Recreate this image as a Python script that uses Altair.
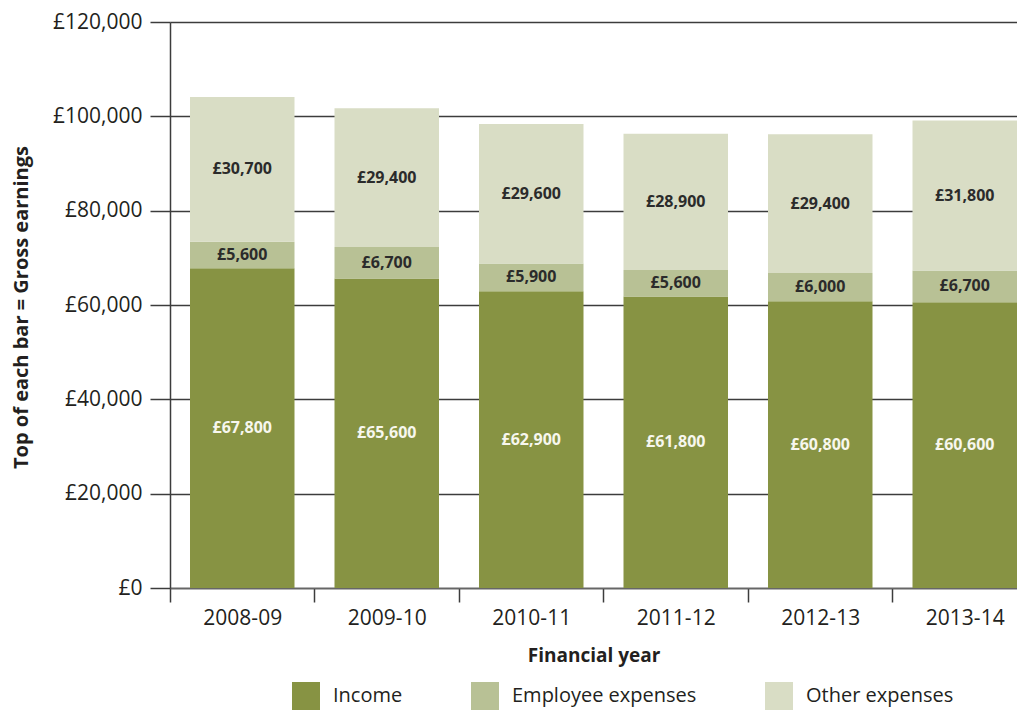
import altair as alt
import pandas as pd

years = ["2008-09", "2009-10", "2010-11", "2011-12", "2012-13", "2013-14"]
income = [67800, 65600, 62900, 61800, 60800, 60600]
employee = [5600, 6700, 5900, 5600, 6000, 6700]
other = [30700, 29400, 29600, 28900, 29400, 31800]
series = ["Income", "Employee expenses", "Other expenses"]
colors = ["#879343", "#b8c195", "#d9ddc5"]
label_colors = ["#f7f7ee", "#2b2b2b", "#2b2b2b"]
y_ticks = [0, 20000, 40000, 60000, 80000, 100000, 120000]

rows = []
for i, yr in enumerate(years):
    for k, vals in enumerate([income, employee, other]):
        rows.append({"year": yr, "series": series[k], "order": k,
                     "value": vals[i], "tcolor": label_colors[k]})
df = pd.DataFrame(rows)

FONT = "Open Sans"
INK = "#231f20"
LINE = "#3c3c3c"

base = alt.Chart(df).transform_stack(
    stack="value", groupby=["year"], as_=["y0", "y1"],
    sort=[alt.SortField("order", order="ascending")]
).transform_calculate(
    mid="(datum.y0 + datum.y1) / 2",
    label="'£' + format(datum.value, ',')"
)

x_enc = alt.X(
    "year:N", sort=years,
    scale=alt.Scale(paddingInner=0.2768, paddingOuter=0.0692, align=1),
    axis=alt.Axis(
        title="Financial year", bandPosition=0, labelAngle=0,
        tickOffset=-20, labelOffset=20,
        labelFont=FONT, labelFontSize=21, labelColor=INK, labelPadding=5,
        tickSize=14, tickColor=LINE, tickWidth=1.5,
        domainColor="#666666", domainWidth=1.5,
        titleFont=FONT, titleFontSize=19, titleFontWeight="bold", titleColor=INK,
        titleY=67, titleBaseline="middle", grid=False,
    ),
)

bars = base.mark_bar(strokeWidth=0).encode(
    x=x_enc,
    y=alt.Y(
        "y0:Q",
        scale=alt.Scale(domain=[0, 120000], nice=False),
        axis=alt.Axis(
            title="Top of each bar = Gross earnings", values=y_ticks,
            labelExpr="'£' + format(datum.value, ',')",
            labelFont=FONT, labelFontSize=21, labelColor=INK, labelPadding=8,
            tickSize=20, tickColor=LINE, tickWidth=1.5,
            domainColor=LINE, domainWidth=1.5,
            grid=True, gridColor=LINE, gridWidth=1.5,
            titleFont=FONT, titleFontSize=20, titleFontWeight="bold", titleColor=INK,
            titleX=-149, titleY=285, titleAngle=270, titleAlign="center",
            titleBaseline="middle",
        ),
    ),
    y2="y1:Q",
    color=alt.Color(
        "series:N", sort=series,
        scale=alt.Scale(domain=series, range=colors),
        legend=alt.Legend(
            title=None, orient="none", legendX=122, legendY=660,
            direction="horizontal", symbolType="square", symbolSize=784,
            symbolStrokeWidth=0, symbolOpacity=1, labelFont=FONT,
            labelFontSize=20, labelColor=INK, labelOffset=13,
            labelLimit=400, columnPadding=68,
        ),
    ),
    order=alt.Order("order:Q"),
)

texts = base.mark_text(font=FONT, fontSize=16, fontWeight="bold",
                       baseline="middle", align="center").encode(
    x=alt.X("year:N", sort=years),
    y=alt.Y("mid:Q"),
    text="label:N",
    color=alt.Color("tcolor:N", scale=None),
)

chart = alt.layer(bars, texts).resolve_scale(color="independent").properties(
    width=847, height=566,
    padding={"left": 162, "top": 14, "right": 0, "bottom": 122},
    autosize=alt.AutoSizeParams(type="none"),
).configure_view(stroke=None)

chart.save("out.html", embed_options={"renderer": "svg", "actions": False})
